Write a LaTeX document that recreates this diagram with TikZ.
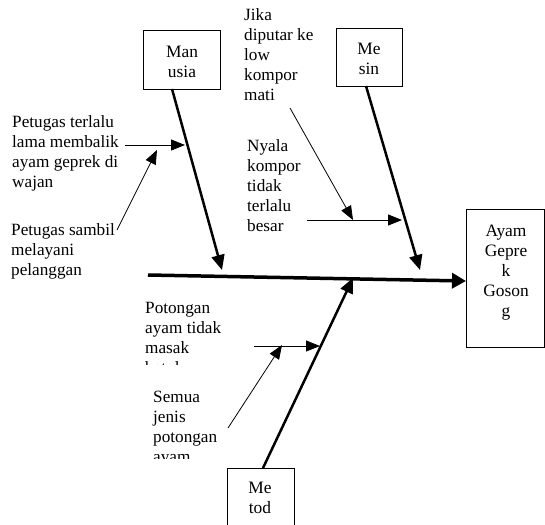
\documentclass[tikz,border=0pt]{standalone}
\usepackage{fontspec}
\setmainfont{Liberation Serif}
\usetikzlibrary{arrows.meta}
\begin{document}
\begin{tikzpicture}[x=1pt,y=-1pt,
  txt/.style={inner sep=0pt, align=left, anchor=north west, font=\fontsize{17.2}{20}\selectfont},
  ctxt/.style={inner sep=0pt, align=center, font=\fontsize{17.4}{20}\selectfont},
  box/.style={draw, line width=0.9pt, inner sep=0pt},
  bone/.style={line width=2.5pt, -{Triangle[length=15pt,width=13pt]}},
  sub/.style={line width=0.8pt, -{Triangle[length=14pt,width=11pt]}},
  spine/.style={line width=3.5pt, -{Triangle[length=14pt,width=15pt]}}]
\useasboundingbox (0,0) rectangle (545,524);
\clip (0,0) rectangle (545,524);

% boxes
\node[box, minimum width=77pt, minimum height=59pt] (man) at (181.5,59.5) {};
\node[ctxt] (mantxt) at (182,62) {Man\\usia};
\node[box, minimum width=66pt, minimum height=58pt] (mes) at (369,57) {};
\node[ctxt] (mestxt) at (369,59) {Me\\sin};
\node[box, minimum width=78pt, minimum height=138pt] (ayam) at (505,278) {};
\node[ctxt] (ayamtxt) at (506,272.5) {Ayam\\Gepre\\k\\Goson\\g};
\node[box, minimum width=67pt, minimum height=80pt] (met) at (260.5,508) {};
\node[ctxt] (mettxt) at (260,498) {Me\\tod};

% spine
\coordinate (tail) at (148,275);
\coordinate (head) at (466,281);
\draw[spine] (tail) -- (head);

% bones
\coordinate (manA) at (172,89);
\coordinate (manT) at (222,270);
\draw[bone] (manA) -- (manT);
\coordinate (mesA) at (366,86);
\coordinate (mesT) at (420,270);
\draw[bone] (mesA) -- (mesT);
\coordinate (metA) at (263,468);
\coordinate (metT) at (353,278);
\draw[bone] (metA) -- (metT);

% texts
\node[txt] (p1) at (12,115) {Petugas terlalu\\lama membalik\\ayam geprek di\\wajan};
\node[txt] (p2) at (11,223) {Petugas sambil\\melayani\\pelanggan};
\node[txt] (j1) at (244,8) {Jika\\diputar ke\\low\\kompor\\mati};
\node[txt] (n1) at (247,139) {Nyala\\kompor\\tidak\\terlalu\\besar};
\begin{scope}
\clip (140,295) rectangle (262,364);
\node[txt] (pt) at (145,302) {Potongan\\ayam tidak\\masak\\betul};
\end{scope}
\begin{scope}
\clip (140,385) rectangle (262,458);
\node[txt] (se) at (153,391) {Semua\\jenis\\potongan\\ayam};
\end{scope}

% sub-cause arrows
\coordinate (m1s) at (125,145);
\coordinate (m1t) at (185,145);
\draw[sub] (m1s) -- (m1t);
\coordinate (m2s) at (117,230);
\coordinate (m2t) at (157,150);
\draw[sub] (m2s) -- (m2t);
\coordinate (s1s) at (290,108);
\coordinate (s1t) at (353,220);
\draw[sub] (s1s) -- (s1t);
\coordinate (s2s) at (307,220);
\coordinate (s2t) at (402,220);
\draw[sub] (s2s) -- (s2t);
\coordinate (t1s) at (254,346);
\coordinate (t1t) at (320,346);
\draw[sub] (t1s) -- (t1t);
\coordinate (t2s) at (228,428);
\coordinate (t2t) at (282,345);
\draw[sub] (t2s) -- (t2t);
\end{tikzpicture}
\end{document}
